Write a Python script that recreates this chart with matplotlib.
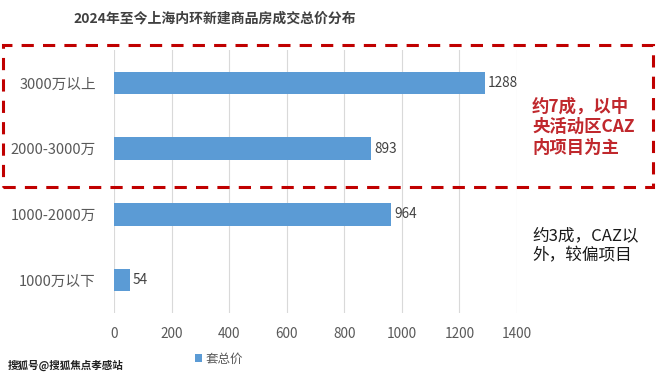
import matplotlib
matplotlib.use("Agg")
import matplotlib.pyplot as plt
from matplotlib.patches import Rectangle

plt.rcParams['font.family'] = ['Noto Sans CJK SC', 'DejaVu Sans']

categories = ['3000万以上', '2000-3000万', '1000-2000万', '1000万以下']
values = [1288, 893, 964, 54]
xticks = [0, 200, 400, 600, 800, 1000, 1200, 1400]
series_name = '套总价'
title = '2024年至今上海内环新建商品房成交总价分布'
note_red = '约7成，以中\n央活动区CAZ\n内项目为主'
note_black = '约3成，CAZ以\n外，较偏项目'
watermark = '搜狐号@搜狐焦点孝感站'

W, H = 660, 379
fig = plt.figure(figsize=(W/100, H/100), dpi=100)
ax = fig.add_axes([114/W, 1-313/H, (517-114)/W, (313-50)/H])

ypos = list(range(len(categories)))
bars = ax.barh(ypos, values, height=0.34, color='#5b9bd5', label=series_name, zorder=3)
ax.set_ylim(len(categories)-0.5, -0.5)
ax.set_xlim(0, 1400)
ax.set_xticks(xticks)
ax.set_xticklabels([str(t) for t in xticks])
ax.set_yticks(ypos)
ax.set_yticklabels(categories)
ax.tick_params(axis='both', length=0, colors='#595959')
ax.tick_params(axis='x', pad=10, labelsize=9.8)
ax.tick_params(axis='y', pad=13, labelsize=10.5)
ax.grid(axis='x', color='#d9d9d9', linewidth=0.8, zorder=0)
for s in ax.spines.values():
    s.set_visible(False)

for b, v in zip(bars, values):
    ax.text(b.get_width() + 10, b.get_y() + b.get_height()/2, str(v),
            va='center', ha='left', fontsize=9.8, color='#404040')

fig.text(215/W, 1-18/H, title, ha='center', va='center', fontsize=10,
         fontweight='bold', color='#404040')

# red dashed box
rect = Rectangle((3/W, 1-187/H), (653-3)/W, (187-45)/H, transform=fig.transFigure,
                 fill=False, edgecolor='#c00000', linewidth=2.2,
                 linestyle=(0, (4, 3)))
fig.add_artist(rect)

fig.text(532/W, 1-127/H, note_red, ha='left', va='center', fontsize=12.5,
         fontweight='bold', color='#c0282d', linespacing=1.2)
fig.text(532/W, 1-246/H, note_black, ha='left', va='center', fontsize=12,
         color='#1a1a1a', linespacing=1.25)

leg = fig.legend(handles=[bars], labels=[series_name], loc='center',
                 bbox_to_anchor=(219/W, 1-359/H), frameon=False, fontsize=9,
                 handlelength=0.6, handleheight=0.6, handletextpad=0.3,
                 labelcolor='#595959')

fig.text(8/W, 1-365/H, watermark, ha='left', va='center', fontsize=7.6,
         fontweight='bold', color='#222222')

fig.savefig('out.png', dpi=100)
